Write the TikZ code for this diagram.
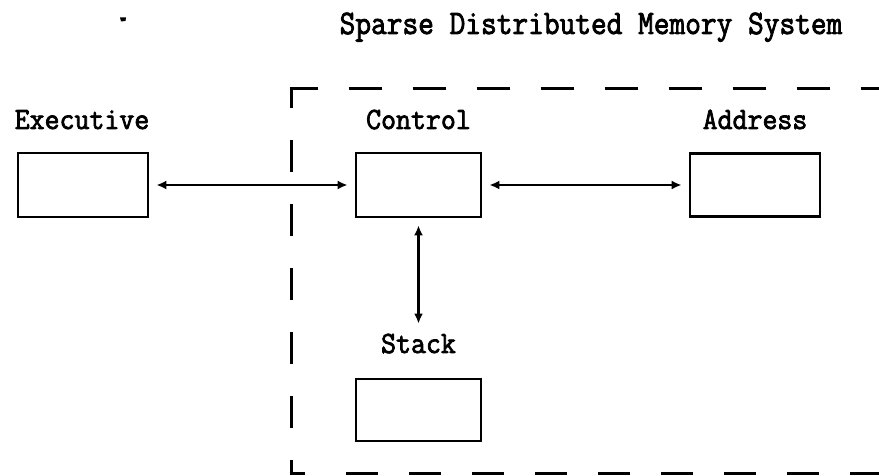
\documentclass[tikz,border=0pt]{standalone}
\usepackage{fontspec}
\setmonofont{Latin Modern Mono}[BoldFont=*, BoldFeatures={FakeBold=2.5}]
\usetikzlibrary{arrows.meta}
\newcommand{\condtxt}[1]{\scalebox{0.94}[1]{#1}}
\newcommand{\condttl}[1]{\scalebox{0.89}[1]{#1}}
\tikzset{
  lbl/.style={anchor=base, inner sep=0pt, font=\ttfamily\bfseries\fontsize{31}{37}\selectfont},
  ttl/.style={anchor=base, inner sep=0pt, font=\ttfamily\bfseries\fontsize{34.4}{40}\selectfont},
  box/.style={draw, line width=2.8bp, inner sep=0pt},
  tip/.tip={Latex[length=10bp,width=9bp]},
  conn/.style={line width=2.5bp, tip-tip, shorten <=7bp, shorten >=7bp},
  frame/.style={line width=3bp, line cap=butt},
}
\begin{document}
\begin{tikzpicture}[x=1bp, y=-1bp]
\useasboundingbox[fill=white] (0,0) rectangle (879,476);
% stray dot
\fill (120,17.5) -- (126,17.5) -- (125.5,21) -- (121,21.5) -- cycle;
% title
\node[ttl] (title) at (591,34) {\condttl{Sparse Distributed Memory System}};
% boxes
\node[box, minimum width=130bp, minimum height=64bp] (exec) at (83,185) {};
\node[box, minimum width=125bp, minimum height=64bp] (control) at (418.5,185) {};
\node[box, minimum width=130bp, minimum height=63bp] (address) at (755,185) {};
\node[box, minimum width=125bp, minimum height=62bp] (stack) at (418.5,410) {};
% labels
\node[lbl] (execlbl) at (82,129) {\condtxt{Executive}};
\node[lbl] (controllbl) at (418.5,129) {\condtxt{Control}};
\node[lbl] (addresslbl) at (755,129) {\condtxt{Address}};
\node[lbl] (stacklbl) at (418.5,353) {\condtxt{Stack}};
% connectors
\draw[conn] (exec) -- (control);
\draw[conn] (control) -- (address);
\draw[conn, shorten >=10bp] (control) -- (stacklbl);
% dashed frame
\coordinate (ftl) at (291,89);
\coordinate (fbl) at (291,473);
\draw[frame, dash pattern=on 33bp off 31bp, dash phase=5bp] ([xshift=-1.5bp]ftl) -- ++(600,0);
\draw[frame, dash pattern=on 32bp off 32bp, dash phase=14.5bp] ([yshift=-1.5bp]ftl) -- ([yshift=1.5bp]fbl);
\draw[frame] ([xshift=-1.5bp]fbl) -- ++(15.5,0);
\draw[frame, dash pattern=on 32bp off 31bp] ([xshift=55bp]fbl) -- ++(560,0);
\end{tikzpicture}
\end{document}
